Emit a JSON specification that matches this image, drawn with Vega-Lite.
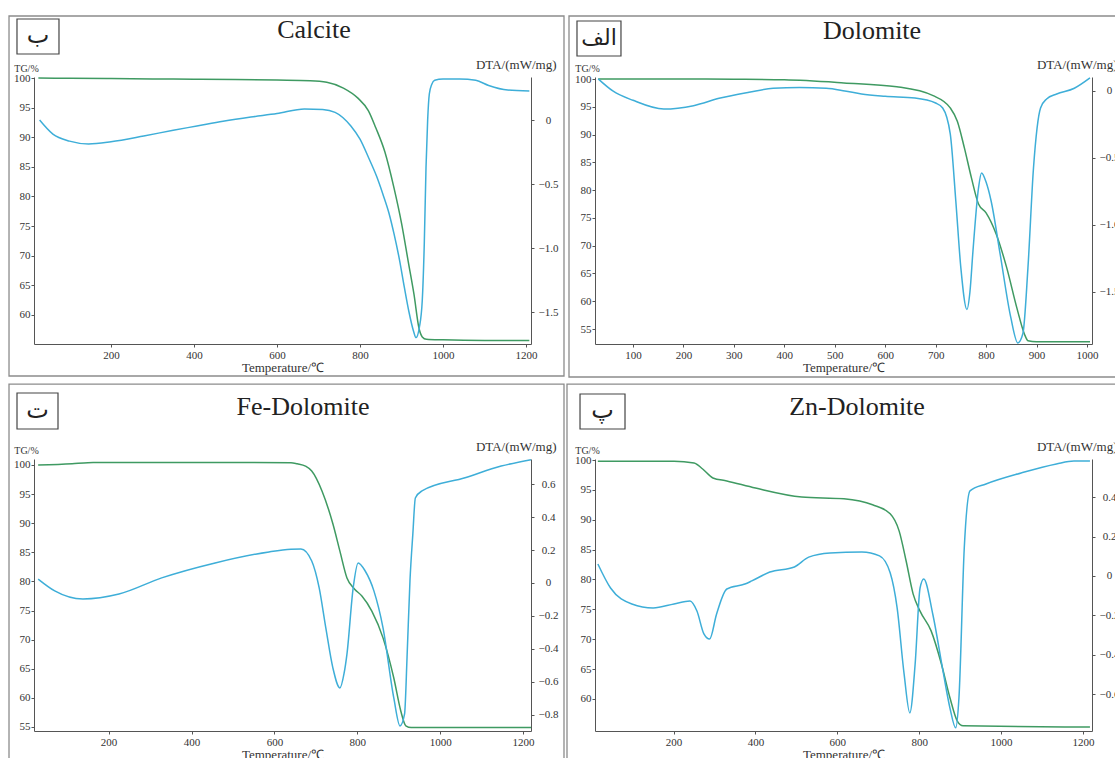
{
  "$schema": "https://vega.github.io/schema/vega-lite/v6.json",
  "background": "white",
  "padding": {"left": 8, "top": 15, "right": 0, "bottom": 0},
  "config": {
    "view": {"stroke": null},
    "line": {"strokeWidth": 1.5, "interpolate": "monotone"},
    "axis": {"labelFont": "Liberation Serif", "labelFontSize": 11, "labelColor": "#333", "titleFont": "Liberation Serif", "titleFontWeight": "normal", "titleColor": "#333", "domainColor": "#555", "tickColor": "#555", "tickSize": 3, "grid": false, "labelFlush": false, "labelOverlap": false},
    "axisX": {"labelPadding": 2, "titleFontSize": 13, "titlePadding": 1, "format": "d"},
    "axisLeft": {"titleAngle": 0, "titleX": -8, "titleY": -6, "titleAlign": "center", "titleBaseline": "alphabetic", "titleFontSize": 10, "labelPadding": 1},
    "axisRight": {"titleAngle": 0, "titleX": 25, "titleY": -9, "titleAlign": "right", "titleBaseline": "alphabetic", "titleFontSize": 13, "labelAlign": "center", "labelPadding": 14, "labelExpr": "datum.value == 0 ? '0' : format(datum.value, '.1f')"}
  },
  "datasets": {
    "calcite_tg": [
      {"T": 25, "TG": 100.0}, {"T": 100, "TG": 99.95}, {"T": 200, "TG": 99.9}, {"T": 300, "TG": 99.85}, {"T": 400, "TG": 99.8}, {"T": 500, "TG": 99.75}, {"T": 600, "TG": 99.65}, {"T": 680, "TG": 99.55}, {"T": 720, "TG": 99.3}, {"T": 760, "TG": 98.3}, {"T": 795, "TG": 96.6}, {"T": 820, "TG": 94.5}, {"T": 838, "TG": 91.6}, {"T": 860, "TG": 87.5}, {"T": 882, "TG": 81.4}, {"T": 900, "TG": 75.5}, {"T": 916, "TG": 69.1}, {"T": 930, "TG": 63.5}, {"T": 942, "TG": 57.8}, {"T": 950, "TG": 56.3}, {"T": 960, "TG": 55.9}, {"T": 1000, "TG": 55.8}, {"T": 1100, "TG": 55.7}, {"T": 1208, "TG": 55.7}
    ],
    "calcite_dta": [
      {"T": 28, "DTA": 0.0}, {"T": 60, "DTA": -0.11}, {"T": 100, "DTA": -0.165}, {"T": 146, "DTA": -0.187}, {"T": 200, "DTA": -0.17}, {"T": 279, "DTA": -0.125}, {"T": 350, "DTA": -0.08}, {"T": 407, "DTA": -0.047}, {"T": 470, "DTA": -0.01}, {"T": 537, "DTA": 0.023}, {"T": 600, "DTA": 0.05}, {"T": 666, "DTA": 0.086}, {"T": 710, "DTA": 0.082}, {"T": 740, "DTA": 0.06}, {"T": 778, "DTA": -0.047}, {"T": 800, "DTA": -0.15}, {"T": 821, "DTA": -0.297}, {"T": 840, "DTA": -0.44}, {"T": 855, "DTA": -0.578}, {"T": 870, "DTA": -0.73}, {"T": 882, "DTA": -0.89}, {"T": 895, "DTA": -1.09}, {"T": 907, "DTA": -1.31}, {"T": 918, "DTA": -1.5}, {"T": 929, "DTA": -1.65}, {"T": 935, "DTA": -1.7}, {"T": 943, "DTA": -1.62}, {"T": 950, "DTA": -1.41}, {"T": 955, "DTA": -0.95}, {"T": 959, "DTA": -0.375}, {"T": 963, "DTA": 0.0}, {"T": 967, "DTA": 0.203}, {"T": 973, "DTA": 0.28}, {"T": 980, "DTA": 0.31}, {"T": 1000, "DTA": 0.32}, {"T": 1040, "DTA": 0.32}, {"T": 1079, "DTA": 0.31}, {"T": 1110, "DTA": 0.27}, {"T": 1156, "DTA": 0.234}, {"T": 1208, "DTA": 0.226}
    ],
    "dolomite_tg": [
      {"T": 31, "TG": 100.0}, {"T": 100, "TG": 100.0}, {"T": 200, "TG": 100.0}, {"T": 300, "TG": 99.95}, {"T": 400, "TG": 99.85}, {"T": 518, "TG": 99.3}, {"T": 623, "TG": 98.6}, {"T": 695, "TG": 97.0}, {"T": 729, "TG": 94.8}, {"T": 743, "TG": 92.4}, {"T": 757, "TG": 87.6}, {"T": 771, "TG": 82.2}, {"T": 785, "TG": 77.5}, {"T": 800, "TG": 75.9}, {"T": 820, "TG": 72.1}, {"T": 841, "TG": 66.0}, {"T": 861, "TG": 58.8}, {"T": 876, "TG": 54.1}, {"T": 883, "TG": 52.9}, {"T": 900, "TG": 52.7}, {"T": 1006, "TG": 52.7}
    ],
    "dolomite_dta": [
      {"T": 31, "DTA": 0.09}, {"T": 60, "DTA": 0.0}, {"T": 100, "DTA": -0.07}, {"T": 161, "DTA": -0.135}, {"T": 220, "DTA": -0.11}, {"T": 273, "DTA": -0.053}, {"T": 330, "DTA": -0.01}, {"T": 378, "DTA": 0.02}, {"T": 430, "DTA": 0.025}, {"T": 483, "DTA": 0.02}, {"T": 520, "DTA": 0.0}, {"T": 553, "DTA": -0.023}, {"T": 600, "DTA": -0.04}, {"T": 659, "DTA": -0.053}, {"T": 700, "DTA": -0.09}, {"T": 714, "DTA": -0.127}, {"T": 729, "DTA": -0.321}, {"T": 740, "DTA": -0.821}, {"T": 750, "DTA": -1.32}, {"T": 762, "DTA": -1.63}, {"T": 768, "DTA": -1.5}, {"T": 774, "DTA": -1.195}, {"T": 785, "DTA": -0.724}, {"T": 791, "DTA": -0.612}, {"T": 800, "DTA": -0.68}, {"T": 810, "DTA": -0.821}, {"T": 828, "DTA": -1.22}, {"T": 849, "DTA": -1.69}, {"T": 863, "DTA": -1.88}, {"T": 873, "DTA": -1.81}, {"T": 883, "DTA": -1.32}, {"T": 894, "DTA": -0.575}, {"T": 908, "DTA": -0.127}, {"T": 920, "DTA": -0.06}, {"T": 940, "DTA": -0.023}, {"T": 975, "DTA": 0.02}, {"T": 1006, "DTA": 0.097}
    ],
    "fe_tg": [
      {"T": 30, "TG": 100.0}, {"T": 112, "TG": 100.2}, {"T": 150, "TG": 100.4}, {"T": 300, "TG": 100.45}, {"T": 500, "TG": 100.45}, {"T": 640, "TG": 100.4}, {"T": 655, "TG": 100.2}, {"T": 675, "TG": 99.8}, {"T": 690, "TG": 98.97}, {"T": 715, "TG": 95.5}, {"T": 741, "TG": 89.9}, {"T": 758, "TG": 85.2}, {"T": 775, "TG": 80.6}, {"T": 793, "TG": 78.7}, {"T": 811, "TG": 77.5}, {"T": 835, "TG": 74.9}, {"T": 862, "TG": 70.3}, {"T": 888, "TG": 63.4}, {"T": 905, "TG": 57.7}, {"T": 917, "TG": 55.2}, {"T": 930, "TG": 54.9}, {"T": 1219, "TG": 54.9}
    ],
    "fe_dta": [
      {"T": 30, "DTA": 0.024}, {"T": 70, "DTA": -0.048}, {"T": 138, "DTA": -0.097}, {"T": 225, "DTA": -0.067}, {"T": 328, "DTA": 0.031}, {"T": 457, "DTA": 0.122}, {"T": 587, "DTA": 0.189}, {"T": 640, "DTA": 0.205}, {"T": 664, "DTA": 0.207}, {"T": 690, "DTA": 0.134}, {"T": 708, "DTA": -0.03}, {"T": 724, "DTA": -0.273}, {"T": 741, "DTA": -0.516}, {"T": 758, "DTA": -0.638}, {"T": 768, "DTA": -0.55}, {"T": 775, "DTA": -0.432}, {"T": 790, "DTA": -0.03}, {"T": 802, "DTA": 0.122}, {"T": 819, "DTA": 0.073}, {"T": 840, "DTA": -0.048}, {"T": 862, "DTA": -0.273}, {"T": 888, "DTA": -0.699}, {"T": 903, "DTA": -0.869}, {"T": 914, "DTA": -0.796}, {"T": 920, "DTA": -0.45}, {"T": 927, "DTA": 0.012}, {"T": 934, "DTA": 0.3}, {"T": 940, "DTA": 0.517}, {"T": 956, "DTA": 0.56}, {"T": 1060, "DTA": 0.64}, {"T": 1147, "DTA": 0.711}, {"T": 1219, "DTA": 0.75}
    ],
    "zn_tg": [
      {"T": 15, "TG": 99.8}, {"T": 201, "TG": 99.8}, {"T": 250, "TG": 99.5}, {"T": 271, "TG": 98.5}, {"T": 296, "TG": 97.0}, {"T": 330, "TG": 96.5}, {"T": 400, "TG": 95.3}, {"T": 513, "TG": 93.8}, {"T": 616, "TG": 93.5}, {"T": 686, "TG": 92.5}, {"T": 729, "TG": 91.0}, {"T": 751, "TG": 88.1}, {"T": 768, "TG": 83.1}, {"T": 785, "TG": 77.6}, {"T": 802, "TG": 74.7}, {"T": 829, "TG": 71.4}, {"T": 854, "TG": 65.9}, {"T": 875, "TG": 60.2}, {"T": 893, "TG": 56.3}, {"T": 907, "TG": 55.5}, {"T": 1217, "TG": 55.3}
    ],
    "zn_dta": [
      {"T": 15, "DTA": 0.061}, {"T": 46, "DTA": -0.061}, {"T": 98, "DTA": -0.142}, {"T": 150, "DTA": -0.162}, {"T": 201, "DTA": -0.142}, {"T": 240, "DTA": -0.127}, {"T": 257, "DTA": -0.178}, {"T": 274, "DTA": -0.294}, {"T": 288, "DTA": -0.32}, {"T": 305, "DTA": -0.193}, {"T": 330, "DTA": -0.066}, {"T": 374, "DTA": -0.041}, {"T": 391, "DTA": -0.025}, {"T": 435, "DTA": 0.02}, {"T": 495, "DTA": 0.046}, {"T": 530, "DTA": 0.096}, {"T": 582, "DTA": 0.117}, {"T": 660, "DTA": 0.122}, {"T": 703, "DTA": 0.102}, {"T": 729, "DTA": 0.016}, {"T": 746, "DTA": -0.162}, {"T": 763, "DTA": -0.497}, {"T": 777, "DTA": -0.695}, {"T": 790, "DTA": -0.447}, {"T": 802, "DTA": -0.061}, {"T": 811, "DTA": -0.015}, {"T": 833, "DTA": -0.193}, {"T": 858, "DTA": -0.482}, {"T": 875, "DTA": -0.67}, {"T": 889, "DTA": -0.771}, {"T": 897, "DTA": -0.619}, {"T": 910, "DTA": 0.142}, {"T": 924, "DTA": 0.432}, {"T": 963, "DTA": 0.467}, {"T": 1049, "DTA": 0.523}, {"T": 1135, "DTA": 0.569}, {"T": 1178, "DTA": 0.584}, {"T": 1217, "DTA": 0.584}
    ]
  },
  "columns": 2,
  "bounds": "flush",
  "spacing": {"row": 115, "column": 64},
  "concat": [
    {
      "width": 497, "height": 267,
      "resolve": {"scale": {"y": "independent"}},
      "layer": [
        {"data": {"name": "calcite_tg"}, "mark": {"type": "line", "color": "#3f9a62"},
         "encoding": {
           "x": {"field": "T", "type": "quantitative", "scale": {"domain": [14.5, 1212], "nice": false, "zero": false}, "axis": {"values": [200, 400, 600, 800, 1000, 1200], "title": "Temperature/℃", "labelOverlap": false}},
           "y": {"field": "TG", "type": "quantitative", "scale": {"domain": [55.1, 100.17], "nice": false, "zero": false}, "axis": {"orient": "left", "values": [60, 65, 70, 75, 80, 85, 90, 95, 100], "title": "TG/%", "labelOverlap": false}}}},
        {"data": {"name": "calcite_dta"}, "mark": {"type": "line", "color": "#3eaed8"},
         "encoding": {
           "x": {"field": "T", "type": "quantitative"},
           "y": {"field": "DTA", "type": "quantitative", "scale": {"domain": [-1.75, 0.336], "nice": false, "zero": false}, "axis": {"orient": "right", "values": [0, -0.5, -1.0, -1.5], "title": "DTA/(mW/mg)", "labelOverlap": false}}}},
        {
          "layer": [
            {"data": {"values": [{}]}, "mark": {"type": "rect", "fill": "white", "fillOpacity": 0, "stroke": "#8c8c8c", "strokeWidth": 1.3},
             "encoding": {"x": {"datum": -45.7}, "x2": {"datum": 1291.5}, "y": {"datum": 110.47, "scale": {"domain": [55.1, 100.17], "nice": false, "zero": false}, "axis": null}, "y2": {"datum": 49.7}}},
            {"data": {"values": [{}]}, "mark": {"type": "rect", "fill": "white", "fillOpacity": 0, "stroke": "#444", "strokeWidth": 1.2},
             "encoding": {"x": {"datum": -26.5}, "x2": {"datum": 74.7}, "y": {"datum": 109.96, "axis": null}, "y2": {"datum": 104.05}}},
            {"data": {"values": [{}]}, "mark": {"type": "text", "font": "DejaVu Sans", "fontSize": 24, "color": "#222", "align": "center", "baseline": "middle"},
             "encoding": {"x": {"datum": 24.1}, "y": {"datum": 107.09, "axis": null}, "text": {"value": "ب"}}},
            {"data": {"values": [{}]}, "mark": {"type": "text", "font": "Liberation Serif", "fontSize": 26, "color": "#222", "align": "center", "baseline": "alphabetic"},
             "encoding": {"x": {"datum": 689}, "y": {"datum": 106.75, "axis": null}, "text": {"value": "Calcite"}}}
          ]
        }
      ]
    },
    {
      "width": 497, "height": 267,
      "resolve": {"scale": {"y": "independent"}},
      "layer": [
        {"data": {"name": "dolomite_tg"}, "mark": {"type": "line", "color": "#3f9a62"},
         "encoding": {
           "x": {"field": "T", "type": "quantitative", "scale": {"domain": [24.7, 1010], "nice": false, "zero": false}, "axis": {"values": [100, 200, 300, 400, 500, 600, 700, 800, 900, 1000], "title": "Temperature/℃", "labelOverlap": false}},
           "y": {"field": "TG", "type": "quantitative", "scale": {"domain": [52.3, 100.36], "nice": false, "zero": false}, "axis": {"orient": "left", "values": [55, 60, 65, 70, 75, 80, 85, 90, 95, 100], "title": "TG/%", "labelOverlap": false}}}},
        {"data": {"name": "dolomite_dta"}, "mark": {"type": "line", "color": "#3eaed8"},
         "encoding": {
           "x": {"field": "T", "type": "quantitative"},
           "y": {"field": "DTA", "type": "quantitative", "scale": {"domain": [-1.888, 0.104], "nice": false, "zero": false}, "axis": {"orient": "right", "values": [0, -0.5, -1.0, -1.5], "title": "DTA/(mW/mg)", "labelOverlap": false}}}},
        {
          "layer": [
            {"data": {"values": [{}]}, "mark": {"type": "rect", "fill": "white", "fillOpacity": 0, "stroke": "#8c8c8c", "strokeWidth": 1.3},
             "encoding": {"x": {"datum": -26.85}, "x2": {"datum": 1063.5}, "y": {"datum": 111.34, "scale": {"domain": [52.3, 100.36], "nice": false, "zero": false}, "axis": null}, "y2": {"datum": 46.36}}},
            {"data": {"values": [{}]}, "mark": {"type": "rect", "fill": "white", "fillOpacity": 0, "stroke": "#444", "strokeWidth": 1.2},
             "encoding": {"x": {"datum": -11.0}, "x2": {"datum": 76.2}, "y": {"datum": 110.44, "axis": null}, "y2": {"datum": 104.14}}},
            {"data": {"values": [{}]}, "mark": {"type": "text", "font": "DejaVu Sans", "fontSize": 22, "color": "#222", "align": "center", "baseline": "middle"},
             "encoding": {"x": {"datum": 32.6}, "y": {"datum": 107.38, "axis": null}, "text": {"value": "الف"}}},
            {"data": {"values": [{}]}, "mark": {"type": "text", "font": "Liberation Serif", "fontSize": 26, "color": "#222", "align": "center", "baseline": "alphabetic"},
             "encoding": {"x": {"datum": 573.9}, "y": {"datum": 107.2, "axis": null}, "text": {"value": "Dolomite"}}}
          ]
        }
      ]
    },
    {
      "width": 497, "height": 272,
      "resolve": {"scale": {"y": "independent"}},
      "layer": [
        {"data": {"name": "fe_tg"}, "mark": {"type": "line", "color": "#3f9a62"},
         "encoding": {
           "x": {"field": "T", "type": "quantitative", "scale": {"domain": [20, 1219], "nice": false, "zero": false}, "axis": {"values": [200, 400, 600, 800, 1000, 1200], "title": "Temperature/℃", "labelOverlap": false}},
           "y": {"field": "TG", "type": "quantitative", "scale": {"domain": [54.3, 101.03], "nice": false, "zero": false}, "axis": {"orient": "left", "values": [55, 60, 65, 70, 75, 80, 85, 90, 95, 100], "title": "TG/%", "labelOverlap": false}}}},
        {"data": {"name": "fe_dta"}, "mark": {"type": "line", "color": "#3eaed8"},
         "encoding": {
           "x": {"field": "T", "type": "quantitative"},
           "y": {"field": "DTA", "type": "quantitative", "scale": {"domain": [-0.9, 0.754], "nice": false, "zero": false}, "axis": {"orient": "right", "values": [0.6, 0.4, 0.2, 0, -0.2, -0.4, -0.6, -0.8], "title": "DTA/(mW/mg)", "labelOverlap": false}}}},
        {
          "layer": [
            {"data": {"values": [{}]}, "mark": {"type": "rect", "fill": "white", "fillOpacity": 0, "stroke": "#8c8c8c", "strokeWidth": 1.3},
             "encoding": {"x": {"datum": -40.3}, "x2": {"datum": 1298.6}, "y": {"datum": 113.91, "scale": {"domain": [54.3, 101.03], "nice": false, "zero": false}, "axis": null}, "y2": {"datum": 48.8}}},
            {"data": {"values": [{}]}, "mark": {"type": "rect", "fill": "white", "fillOpacity": 0, "stroke": "#444", "strokeWidth": 1.2},
             "encoding": {"x": {"datum": -21.0}, "x2": {"datum": 77.9}, "y": {"datum": 112.37, "axis": null}, "y2": {"datum": 106.18}}},
            {"data": {"values": [{}]}, "mark": {"type": "text", "font": "DejaVu Sans", "fontSize": 24, "color": "#222", "align": "center", "baseline": "middle"},
             "encoding": {"x": {"datum": 28.4}, "y": {"datum": 109.28, "axis": null}, "text": {"value": "ت"}}},
            {"data": {"values": [{}]}, "mark": {"type": "text", "font": "Liberation Serif", "fontSize": 26, "color": "#222", "align": "center", "baseline": "alphabetic"},
             "encoding": {"x": {"datum": 669}, "y": {"datum": 108.59, "axis": null}, "text": {"value": "Fe-Dolomite"}}}
          ]
        }
      ]
    },
    {
      "width": 497, "height": 272,
      "resolve": {"scale": {"y": "independent"}},
      "layer": [
        {"data": {"name": "zn_tg"}, "mark": {"type": "line", "color": "#3f9a62"},
         "encoding": {
           "x": {"field": "T", "type": "quantitative", "scale": {"domain": [8, 1222], "nice": false, "zero": false}, "axis": {"values": [200, 400, 600, 800, 1000, 1200], "title": "Temperature/℃", "labelOverlap": false}},
           "y": {"field": "TG", "type": "quantitative", "scale": {"domain": [54.64, 100.17], "nice": false, "zero": false}, "axis": {"orient": "left", "values": [60, 65, 70, 75, 80, 85, 90, 95, 100], "title": "TG/%", "labelOverlap": false}}}},
        {"data": {"name": "zn_dta"}, "mark": {"type": "line", "color": "#3eaed8"},
         "encoding": {
           "x": {"field": "T", "type": "quantitative"},
           "y": {"field": "DTA", "type": "quantitative", "scale": {"domain": [-0.787, 0.594], "nice": false, "zero": false}, "axis": {"orient": "right", "values": [0.4, 0.2, 0, -0.2, -0.4, -0.6], "title": "DTA/(mW/mg)", "labelOverlap": false}}}},
        {
          "layer": [
            {"data": {"values": [{}]}, "mark": {"type": "rect", "fill": "white", "fillOpacity": 0, "stroke": "#8c8c8c", "strokeWidth": 1.3},
             "encoding": {"x": {"datum": -60.4}, "x2": {"datum": 1288}, "y": {"datum": 112.72, "scale": {"domain": [54.64, 100.17], "nice": false, "zero": false}, "axis": null}, "y2": {"datum": 49.28}}},
            {"data": {"values": [{}]}, "mark": {"type": "rect", "fill": "white", "fillOpacity": 0, "stroke": "#444", "strokeWidth": 1.2},
             "encoding": {"x": {"datum": -28.6}, "x2": {"datum": 81.3}, "y": {"datum": 111.05, "axis": null}, "y2": {"datum": 105.19}}},
            {"data": {"values": [{}]}, "mark": {"type": "text", "font": "DejaVu Sans", "fontSize": 24, "color": "#222", "align": "center", "baseline": "middle"},
             "encoding": {"x": {"datum": 26.3}, "y": {"datum": 108.2, "axis": null}, "text": {"value": "پ"}}},
            {"data": {"values": [{}]}, "mark": {"type": "text", "font": "Liberation Serif", "fontSize": 26, "color": "#222", "align": "center", "baseline": "alphabetic"},
             "encoding": {"x": {"datum": 648}, "y": {"datum": 107.53, "axis": null}, "text": {"value": "Zn-Dolomite"}}}
          ]
        }
      ]
    }
  ]
}
